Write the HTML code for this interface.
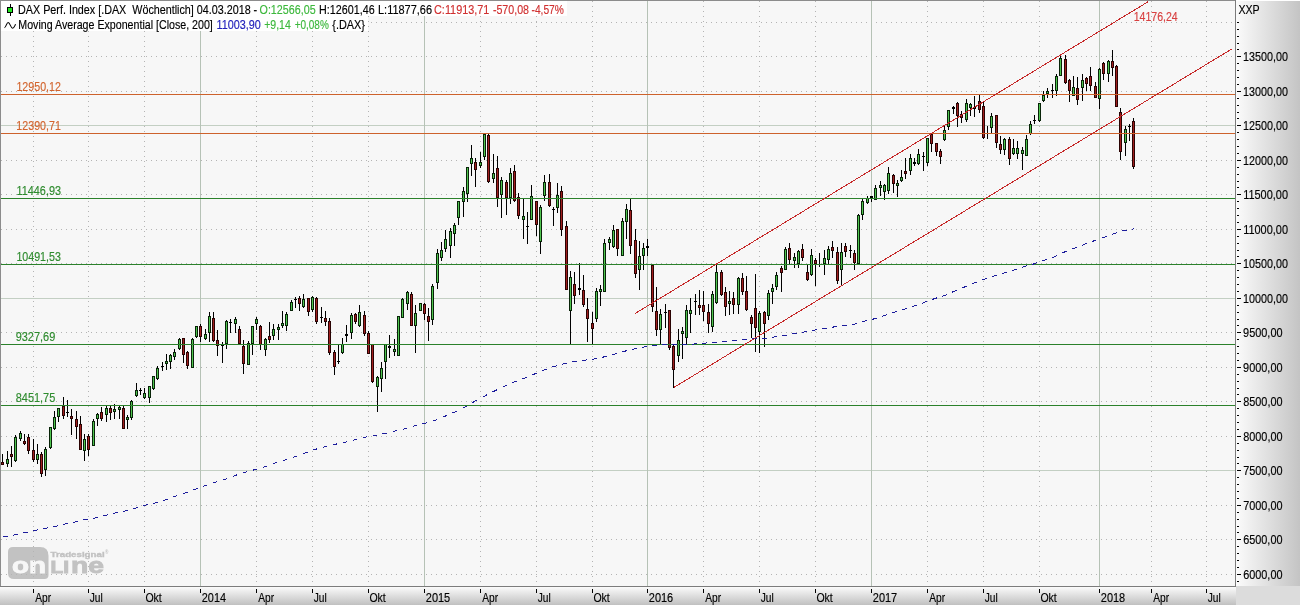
<!DOCTYPE html>
<html lang="de"><head><meta charset="utf-8"><title>DAX Perf. Index Wöchentlich</title>
<style>
html,body{margin:0;padding:0;background:#fff;}
body{width:1300px;height:605px;overflow:hidden;position:relative;}
svg{position:absolute;left:0;top:0;display:block;}
text{font-family:"Liberation Sans",Arial,sans-serif;font-size:12px;}
#texts text{stroke-width:0.15px;}
.cr{shape-rendering:crispEdges;}
</style></head><body>
<svg width="1300" height="605" viewBox="0 0 1300 605">
<defs>
<linearGradient id="gr" x1="0" y1="0" x2="1" y2="0"><stop offset="0" stop-color="#fbfbfb"/><stop offset="1" stop-color="#c4c4c4"/></linearGradient>
<linearGradient id="gb" x1="0" y1="0" x2="0" y2="1"><stop offset="0" stop-color="#fbfbfb"/><stop offset="1" stop-color="#c0c0c0"/></linearGradient>
</defs>
<rect x="0" y="0" width="1300" height="605" fill="#ffffff"/>
<rect x="0" y="0" width="1235" height="586" fill="#f7f7f7"/>
<rect x="1236" y="1" width="64" height="585" fill="url(#gr)"/>
<rect x="0" y="587" width="1236" height="18" fill="url(#gb)"/>
<rect x="1236" y="586" width="64" height="19" fill="#dcdcdc"/>
<g id="logo" style="font-weight:bold" stroke-linejoin="miter">
<path d="M13 547 H40 Q48.5 547 48.5 556 V575 Q48.5 579 44.5 579 H14 Q8 579 8 573 V552 Q8 547 13 547 Z" fill="#c2c2c2"/>
<text x="50.6" y="557.3" style="font-size:8px" fill="#c2c2c2" stroke="#c2c2c2" stroke-width="0.35" textLength="54" lengthAdjust="spacingAndGlyphs">Tradesignal</text>
<text x="105" y="554.2" style="font-size:4.5px" fill="#c2c2c2">®</text>
<text y="573.2" stroke-width="0.9"><tspan x="12" style="font-size:22px" fill="#f7f7f7" stroke="#f7f7f7" textLength="34" lengthAdjust="spacingAndGlyphs">on</tspan><tspan x="50.6" style="font-size:16px" fill="#c2c2c2" stroke="#c2c2c2" textLength="18.5" lengthAdjust="spacingAndGlyphs">LI</tspan><tspan x="71" style="font-size:22px" fill="#c2c2c2" stroke="#c2c2c2" textLength="33" lengthAdjust="spacingAndGlyphs">ne</tspan></text>
</g>
<g class="cr">
<line x1="1" y1="574.5" x2="1235" y2="574.5" stroke="#b4b4b4" stroke-width="1" stroke-dasharray="1 4"/>
<line x1="1" y1="539.5" x2="1235" y2="539.5" stroke="#b4b4b4" stroke-width="1" stroke-dasharray="1 4"/>
<line x1="1" y1="505.5" x2="1235" y2="505.5" stroke="#b4b4b4" stroke-width="1" stroke-dasharray="1 4"/>
<rect x="1" y="470" width="1234" height="1" fill="#c3cfc3"/>
<line x1="1" y1="436.5" x2="1235" y2="436.5" stroke="#b4b4b4" stroke-width="1" stroke-dasharray="1 4"/>
<line x1="1" y1="401.5" x2="1235" y2="401.5" stroke="#b4b4b4" stroke-width="1" stroke-dasharray="1 4"/>
<line x1="1" y1="367.5" x2="1235" y2="367.5" stroke="#b4b4b4" stroke-width="1" stroke-dasharray="1 4"/>
<line x1="1" y1="332.5" x2="1235" y2="332.5" stroke="#b4b4b4" stroke-width="1" stroke-dasharray="1 4"/>
<rect x="1" y="298" width="1234" height="1" fill="#c3cfc3"/>
<line x1="1" y1="263.5" x2="1235" y2="263.5" stroke="#b4b4b4" stroke-width="1" stroke-dasharray="1 4"/>
<line x1="1" y1="229.5" x2="1235" y2="229.5" stroke="#b4b4b4" stroke-width="1" stroke-dasharray="1 4"/>
<line x1="1" y1="194.5" x2="1235" y2="194.5" stroke="#b4b4b4" stroke-width="1" stroke-dasharray="1 4"/>
<line x1="1" y1="160.5" x2="1235" y2="160.5" stroke="#b4b4b4" stroke-width="1" stroke-dasharray="1 4"/>
<rect x="1" y="125" width="1234" height="1" fill="#c3cfc3"/>
<line x1="1" y1="91.5" x2="1235" y2="91.5" stroke="#b4b4b4" stroke-width="1" stroke-dasharray="1 4"/>
<line x1="1" y1="56.5" x2="1235" y2="56.5" stroke="#b4b4b4" stroke-width="1" stroke-dasharray="1 4"/>
<line x1="1" y1="22.5" x2="1235" y2="22.5" stroke="#b4b4b4" stroke-width="1" stroke-dasharray="1 4"/>
<line x1="33.5" y1="1" x2="33.5" y2="586" stroke="#b4b4b4" stroke-width="1" stroke-dasharray="1 4"/>
<line x1="88.5" y1="1" x2="88.5" y2="586" stroke="#b4b4b4" stroke-width="1" stroke-dasharray="1 4"/>
<line x1="144.5" y1="1" x2="144.5" y2="586" stroke="#b4b4b4" stroke-width="1" stroke-dasharray="1 4"/>
<rect x="200" y="1" width="1" height="585" fill="#b6c2b6"/>
<line x1="256.5" y1="1" x2="256.5" y2="586" stroke="#b4b4b4" stroke-width="1" stroke-dasharray="1 4"/>
<line x1="312.5" y1="1" x2="312.5" y2="586" stroke="#b4b4b4" stroke-width="1" stroke-dasharray="1 4"/>
<line x1="368.5" y1="1" x2="368.5" y2="586" stroke="#b4b4b4" stroke-width="1" stroke-dasharray="1 4"/>
<rect x="424" y="1" width="1" height="585" fill="#b6c2b6"/>
<line x1="480.5" y1="1" x2="480.5" y2="586" stroke="#b4b4b4" stroke-width="1" stroke-dasharray="1 4"/>
<line x1="536.5" y1="1" x2="536.5" y2="586" stroke="#b4b4b4" stroke-width="1" stroke-dasharray="1 4"/>
<line x1="592.5" y1="1" x2="592.5" y2="586" stroke="#b4b4b4" stroke-width="1" stroke-dasharray="1 4"/>
<rect x="647" y="1" width="1" height="585" fill="#b6c2b6"/>
<line x1="703.5" y1="1" x2="703.5" y2="586" stroke="#b4b4b4" stroke-width="1" stroke-dasharray="1 4"/>
<line x1="759.5" y1="1" x2="759.5" y2="586" stroke="#b4b4b4" stroke-width="1" stroke-dasharray="1 4"/>
<line x1="815.5" y1="1" x2="815.5" y2="586" stroke="#b4b4b4" stroke-width="1" stroke-dasharray="1 4"/>
<rect x="871" y="1" width="1" height="585" fill="#b6c2b6"/>
<line x1="927.5" y1="1" x2="927.5" y2="586" stroke="#b4b4b4" stroke-width="1" stroke-dasharray="1 4"/>
<line x1="983.5" y1="1" x2="983.5" y2="586" stroke="#b4b4b4" stroke-width="1" stroke-dasharray="1 4"/>
<line x1="1039.5" y1="1" x2="1039.5" y2="586" stroke="#b4b4b4" stroke-width="1" stroke-dasharray="1 4"/>
<rect x="1099" y="1" width="1" height="585" fill="#b6c2b6"/>
<line x1="1151.5" y1="1" x2="1151.5" y2="586" stroke="#b4b4b4" stroke-width="1" stroke-dasharray="1 4"/>
<line x1="1206.5" y1="1" x2="1206.5" y2="586" stroke="#b4b4b4" stroke-width="1" stroke-dasharray="1 4"/>
</g>
<g class="cr" id="candles">
<path fill="#000" d="M2 454h1v11h-1zM7 451h1v16h-1zM11 446h1v21h-1zM15 435h1v27h-1zM20 431h1v10h-1zM24 434h1v11h-1zM28 434h1v20h-1zM33 439h1v23h-1zM37 444h1v20h-1zM41 452h1v25h-1zM45 447h1v29h-1zM50 427h1v22h-1zM54 411h1v19h-1zM58 408h1v14h-1zM63 397h1v22h-1zM67 400h1v17h-1zM71 409h1v26h-1zM76 411h1v28h-1zM80 416h1v34h-1zM84 434h1v27h-1zM88 434h1v22h-1zM93 419h1v27h-1zM97 413h1v13h-1zM101 407h1v14h-1zM106 406h1v16h-1zM110 406h1v14h-1zM114 404h1v15h-1zM119 406h1v13h-1zM123 406h1v23h-1zM127 415h1v14h-1zM131 400h1v20h-1zM136 383h1v14h-1zM140 388h1v7h-1zM144 388h1v11h-1zM149 386h1v17h-1zM153 376h1v14h-1zM157 366h1v14h-1zM162 362h1v9h-1zM166 354h1v16h-1zM170 354h1v15h-1zM174 349h1v11h-1zM179 338h1v12h-1zM183 338h1v25h-1zM187 351h1v18h-1zM192 338h1v30h-1zM196 326h1v12h-1zM200 324h1v18h-1zM205 329h1v11h-1zM209 312h1v30h-1zM213 312h1v30h-1zM217 330h1v26h-1zM222 342h1v21h-1zM226 320h1v29h-1zM230 319h1v14h-1zM235 317h1v16h-1zM239 326h1v18h-1zM243 340h1v34h-1zM248 341h1v24h-1zM252 326h1v29h-1zM256 317h1v13h-1zM260 325h1v25h-1zM265 338h1v18h-1zM269 322h1v21h-1zM273 324h1v16h-1zM278 324h1v16h-1zM282 311h1v17h-1zM286 312h1v19h-1zM291 300h1v11h-1zM295 297h1v11h-1zM299 296h1v15h-1zM303 294h1v14h-1zM308 298h1v18h-1zM312 296h1v16h-1zM316 297h1v27h-1zM321 307h1v16h-1zM325 311h1v15h-1zM329 318h1v37h-1zM334 350h1v25h-1zM338 344h1v20h-1zM342 338h1v16h-1zM346 325h1v17h-1zM351 313h1v26h-1zM355 313h1v11h-1zM359 305h1v22h-1zM364 311h1v25h-1zM368 331h1v23h-1zM372 344h1v39h-1zM377 376h1v36h-1zM381 362h1v30h-1zM385 344h1v35h-1zM389 335h1v23h-1zM394 339h1v17h-1zM398 316h1v40h-1zM402 298h1v20h-1zM407 291h1v19h-1zM411 292h1v34h-1zM415 305h1v48h-1zM420 303h1v8h-1zM424 303h1v17h-1zM428 308h1v33h-1zM432 284h1v41h-1zM437 249h1v40h-1zM441 242h1v19h-1zM445 230h1v22h-1zM450 228h1v30h-1zM454 223h1v23h-1zM458 201h1v24h-1zM463 187h1v30h-1zM467 167h1v35h-1zM471 145h1v31h-1zM475 158h1v29h-1zM480 152h1v16h-1zM484 134h1v26h-1zM488 134h1v49h-1zM493 154h1v29h-1zM497 156h1v51h-1zM501 177h1v41h-1zM506 180h1v35h-1zM510 168h1v36h-1zM514 165h1v37h-1zM518 193h1v26h-1zM523 199h1v40h-1zM527 212h1v32h-1zM531 185h1v35h-1zM536 201h1v35h-1zM540 205h1v49h-1zM544 175h1v26h-1zM549 174h1v33h-1zM553 207h1v19h-1zM557 183h1v30h-1zM561 186h1v50h-1zM566 221h1v69h-1zM570 271h1v73h-1zM574 272h1v32h-1zM579 263h1v32h-1zM583 275h1v32h-1zM587 298h1v44h-1zM592 312h1v32h-1zM596 288h1v34h-1zM600 285h1v21h-1zM604 239h1v53h-1zM609 237h1v13h-1zM613 225h1v23h-1zM617 229h1v27h-1zM622 218h1v38h-1zM626 204h1v35h-1zM630 199h1v55h-1zM635 229h1v49h-1zM639 241h1v49h-1zM643 243h1v27h-1zM647 239h1v17h-1zM652 265h1v47h-1zM656 287h1v49h-1zM660 309h1v36h-1zM665 304h1v24h-1zM669 310h1v40h-1zM673 345h1v43h-1zM678 329h1v33h-1zM682 327h1v32h-1zM686 305h1v39h-1zM690 298h1v35h-1zM695 294h1v21h-1zM699 290h1v25h-1zM703 291h1v30h-1zM708 304h1v29h-1zM712 291h1v41h-1zM716 265h1v39h-1zM721 270h1v26h-1zM725 287h1v29h-1zM729 291h1v24h-1zM733 292h1v22h-1zM738 277h1v37h-1zM742 273h1v22h-1zM746 276h1v35h-1zM751 315h1v23h-1zM755 274h1v78h-1zM759 311h1v42h-1zM764 311h1v36h-1zM768 290h1v30h-1zM772 284h1v20h-1zM776 272h1v18h-1zM781 266h1v26h-1zM785 247h1v23h-1zM789 243h1v21h-1zM794 253h1v15h-1zM798 250h1v18h-1zM802 244h1v17h-1zM807 264h1v17h-1zM811 249h1v27h-1zM815 258h1v28h-1zM819 253h1v14h-1zM824 250h1v25h-1zM828 246h1v18h-1zM832 241h1v17h-1zM837 247h1v37h-1zM841 243h1v43h-1zM845 243h1v14h-1zM850 245h1v13h-1zM854 250h1v20h-1zM858 214h1v50h-1zM862 199h1v21h-1zM867 196h1v8h-1zM871 196h1v6h-1zM875 185h1v15h-1zM880 181h1v15h-1zM884 184h1v16h-1zM888 167h1v27h-1zM893 174h1v19h-1zM897 180h1v17h-1zM901 170h1v12h-1zM905 158h1v21h-1zM910 154h1v21h-1zM914 158h1v8h-1zM918 149h1v16h-1zM923 152h1v19h-1zM927 138h1v28h-1zM931 133h1v19h-1zM936 143h1v13h-1zM940 149h1v15h-1zM944 126h1v15h-1zM948 110h1v20h-1zM953 106h1v8h-1zM957 102h1v25h-1zM961 111h1v12h-1zM966 99h1v23h-1zM970 103h1v13h-1zM974 96h1v21h-1zM979 95h1v18h-1zM983 102h1v37h-1zM987 126h1v13h-1zM991 113h1v20h-1zM996 115h1v33h-1zM1000 136h1v18h-1zM1004 138h1v17h-1zM1009 137h1v28h-1zM1013 139h1v16h-1zM1017 141h1v18h-1zM1022 147h1v23h-1zM1026 135h1v21h-1zM1030 121h1v14h-1zM1034 115h1v9h-1zM1039 103h1v19h-1zM1043 91h1v11h-1zM1047 88h1v10h-1zM1052 84h1v14h-1zM1056 74h1v22h-1zM1060 56h1v20h-1zM1065 55h1v29h-1zM1069 79h1v23h-1zM1073 76h1v20h-1zM1077 77h1v28h-1zM1082 74h1v27h-1zM1086 77h1v14h-1zM1090 67h1v24h-1zM1095 82h1v16h-1zM1099 68h1v41h-1zM1103 62h1v18h-1zM1108 60h1v22h-1zM1112 50h1v26h-1zM1116 65h1v42h-1zM1120 108h1v52h-1zM1125 126h1v30h-1zM1129 124h1v17h-1zM1133 118h1v51h-1z"/>
<path fill="#000" d="M66 412h3v1h-3zM139 390h3v1h-3zM161 366h3v1h-3zM221 345h3v1h-3zM229 322h3v1h-3zM294 299h3v1h-3zM320 317h3v1h-3zM337 361h3v1h-3zM345 334h3v2h-3zM388 346h3v2h-3zM526 226h3v1h-3zM552 209h3v1h-3zM578 288h3v2h-3zM646 246h3v2h-3zM664 312h3v1h-3zM694 301h3v1h-3zM849 250h3v1h-3zM870 196h3v2h-3zM913 162h3v2h-3zM922 156h3v1h-3zM952 107h3v2h-3zM973 107h3v2h-3zM1033 120h3v1h-3zM1051 90h3v1h-3zM1128 126h3v1h-3z"/>
<path fill="#082408" d="M6 459h3v5h-3zM14 437h3v24h-3zM19 433h3v6h-3zM36 454h3v6h-3zM44 449h3v21h-3zM49 427h3v21h-3zM53 417h3v12h-3zM57 408h3v9h-3zM83 439h3v12h-3zM92 421h3v25h-3zM96 414h3v5h-3zM105 408h3v7h-3zM113 409h3v3h-3zM118 407h3v3h-3zM126 417h3v3h-3zM130 401h3v17h-3zM135 390h3v6h-3zM143 393h3v5h-3zM148 386h3v12h-3zM152 376h3v13h-3zM156 368h3v11h-3zM165 361h3v3h-3zM169 355h3v7h-3zM173 352h3v5h-3zM178 339h3v10h-3zM191 339h3v29h-3zM195 326h3v11h-3zM204 334h3v5h-3zM208 316h3v17h-3zM225 321h3v23h-3zM234 319h3v5h-3zM247 343h3v22h-3zM251 326h3v18h-3zM255 319h3v5h-3zM264 339h3v11h-3zM272 329h3v7h-3zM277 327h3v3h-3zM281 323h3v3h-3zM285 314h3v12h-3zM290 302h3v9h-3zM302 299h3v8h-3zM311 297h3v13h-3zM341 344h3v9h-3zM350 315h3v18h-3zM358 312h3v14h-3zM376 377h3v10h-3zM380 368h3v11h-3zM384 344h3v18h-3zM393 349h3v3h-3zM397 316h3v40h-3zM401 299h3v19h-3zM406 292h3v12h-3zM414 313h3v13h-3zM419 303h3v8h-3zM431 286h3v34h-3zM436 253h3v30h-3zM440 250h3v8h-3zM444 239h3v10h-3zM449 231h3v15h-3zM453 225h3v9h-3zM457 201h3v17h-3zM462 191h3v11h-3zM466 167h3v27h-3zM470 158h3v6h-3zM479 162h3v4h-3zM483 134h3v23h-3zM492 173h3v6h-3zM500 180h3v15h-3zM509 173h3v25h-3zM522 216h3v4h-3zM530 196h3v24h-3zM539 207h3v35h-3zM543 182h3v14h-3zM556 195h3v13h-3zM569 277h3v34h-3zM595 291h3v28h-3zM599 289h3v3h-3zM603 243h3v49h-3zM608 239h3v4h-3zM612 230h3v17h-3zM621 221h3v35h-3zM625 209h3v13h-3zM638 256h3v14h-3zM642 248h3v8h-3zM659 314h3v16h-3zM677 340h3v16h-3zM681 331h3v3h-3zM685 310h3v28h-3zM689 310h3v4h-3zM711 294h3v33h-3zM715 272h3v31h-3zM728 301h3v3h-3zM737 278h3v27h-3zM758 313h3v19h-3zM767 293h3v23h-3zM771 288h3v4h-3zM775 275h3v12h-3zM784 249h3v21h-3zM793 257h3v4h-3zM797 251h3v13h-3zM810 255h3v20h-3zM823 258h3v6h-3zM827 249h3v11h-3zM840 252h3v18h-3zM857 215h3v49h-3zM861 201h3v14h-3zM866 198h3v5h-3zM874 188h3v12h-3zM879 185h3v3h-3zM883 185h3v7h-3zM887 173h3v18h-3zM896 183h3v3h-3zM900 177h3v4h-3zM909 158h3v13h-3zM917 154h3v10h-3zM926 138h3v25h-3zM943 130h3v10h-3zM947 110h3v17h-3zM965 103h3v17h-3zM969 104h3v4h-3zM990 116h3v12h-3zM1003 139h3v11h-3zM1012 148h3v6h-3zM1016 148h3v6h-3zM1021 150h3v4h-3zM1025 139h3v17h-3zM1029 124h3v10h-3zM1038 103h3v18h-3zM1042 95h3v6h-3zM1046 91h3v3h-3zM1055 76h3v15h-3zM1059 58h3v18h-3zM1072 87h3v9h-3zM1081 80h3v8h-3zM1098 69h3v30h-3zM1107 61h3v13h-3zM1124 129h3v14h-3z"/>
<path fill="#2a0303" d="M1 462h3v3h-3zM10 454h3v3h-3zM23 441h3v3h-3zM27 437h3v14h-3zM32 450h3v10h-3zM40 454h3v20h-3zM62 406h3v10h-3zM70 416h3v3h-3zM75 419h3v8h-3zM79 424h3v26h-3zM87 436h3v14h-3zM100 412h3v7h-3zM109 408h3v5h-3zM122 408h3v21h-3zM182 338h3v17h-3zM186 352h3v14h-3zM199 326h3v11h-3zM212 318h3v23h-3zM216 340h3v6h-3zM238 329h3v15h-3zM242 346h3v18h-3zM259 326h3v19h-3zM268 336h3v4h-3zM298 298h3v6h-3zM307 298h3v14h-3zM315 298h3v24h-3zM324 318h3v4h-3zM328 321h3v32h-3zM333 352h3v15h-3zM354 314h3v8h-3zM363 315h3v19h-3zM367 333h3v21h-3zM371 344h3v38h-3zM410 294h3v32h-3zM423 304h3v10h-3zM427 316h3v6h-3zM474 162h3v8h-3zM487 135h3v47h-3zM496 168h3v30h-3zM505 182h3v16h-3zM513 171h3v30h-3zM517 197h3v19h-3zM535 201h3v24h-3zM548 182h3v24h-3zM560 191h3v39h-3zM565 226h3v64h-3zM573 284h3v12h-3zM582 290h3v15h-3zM586 309h3v10h-3zM591 323h3v6h-3zM616 229h3v20h-3zM629 210h3v36h-3zM634 240h3v34h-3zM651 265h3v42h-3zM655 311h3v19h-3zM668 310h3v38h-3zM672 346h3v24h-3zM698 305h3v3h-3zM702 305h3v7h-3zM707 312h3v12h-3zM720 272h3v23h-3zM724 292h3v15h-3zM732 298h3v7h-3zM741 278h3v14h-3zM745 291h3v19h-3zM750 317h3v7h-3zM754 308h3v20h-3zM763 312h3v12h-3zM780 268h3v5h-3zM788 248h3v12h-3zM801 249h3v9h-3zM806 272h3v8h-3zM814 260h3v4h-3zM831 247h3v4h-3zM836 252h3v29h-3zM844 246h3v6h-3zM853 253h3v10h-3zM892 175h3v9h-3zM904 171h3v3h-3zM930 134h3v10h-3zM935 143h3v9h-3zM939 151h3v6h-3zM956 103h3v13h-3zM960 114h3v4h-3zM978 101h3v9h-3zM982 106h3v32h-3zM995 115h3v28h-3zM999 144h3v6h-3zM1008 139h3v20h-3zM1064 59h3v24h-3zM1068 80h3v11h-3zM1076 88h3v12h-3zM1085 78h3v6h-3zM1089 76h3v10h-3zM1094 86h3v12h-3zM1102 63h3v11h-3zM1111 61h3v7h-3zM1115 66h3v41h-3zM1119 112h3v40h-3zM1132 121h3v46h-3z"/>
<path fill="#4fc54f" d="M7 460h1v3h-1zM15 438h1v22h-1zM20 434h1v4h-1zM37 455h1v4h-1zM45 450h1v19h-1zM50 428h1v19h-1zM54 418h1v10h-1zM58 409h1v7h-1zM84 440h1v10h-1zM93 422h1v23h-1zM97 415h1v3h-1zM106 409h1v5h-1zM114 410h1v1h-1zM119 408h1v1h-1zM127 418h1v1h-1zM131 402h1v15h-1zM136 391h1v4h-1zM144 394h1v3h-1zM149 387h1v10h-1zM153 377h1v11h-1zM157 369h1v9h-1zM166 362h1v1h-1zM170 356h1v5h-1zM174 353h1v3h-1zM179 340h1v8h-1zM192 340h1v27h-1zM196 327h1v9h-1zM205 335h1v3h-1zM209 317h1v15h-1zM226 322h1v21h-1zM235 320h1v3h-1zM248 344h1v20h-1zM252 327h1v16h-1zM256 320h1v3h-1zM265 340h1v9h-1zM273 330h1v5h-1zM278 328h1v1h-1zM282 324h1v1h-1zM286 315h1v10h-1zM291 303h1v7h-1zM303 300h1v6h-1zM312 298h1v11h-1zM342 345h1v7h-1zM351 316h1v16h-1zM359 313h1v12h-1zM377 378h1v8h-1zM381 369h1v9h-1zM385 345h1v16h-1zM394 350h1v1h-1zM398 317h1v38h-1zM402 300h1v17h-1zM407 293h1v10h-1zM415 314h1v11h-1zM420 304h1v6h-1zM432 287h1v32h-1zM437 254h1v28h-1zM441 251h1v6h-1zM445 240h1v8h-1zM450 232h1v13h-1zM454 226h1v7h-1zM458 202h1v15h-1zM463 192h1v9h-1zM467 168h1v25h-1zM471 159h1v4h-1zM480 163h1v2h-1zM484 135h1v21h-1zM493 174h1v4h-1zM501 181h1v13h-1zM510 174h1v23h-1zM523 217h1v2h-1zM531 197h1v22h-1zM540 208h1v33h-1zM544 183h1v12h-1zM557 196h1v11h-1zM570 278h1v32h-1zM596 292h1v26h-1zM600 290h1v1h-1zM604 244h1v47h-1zM609 240h1v2h-1zM613 231h1v15h-1zM622 222h1v33h-1zM626 210h1v11h-1zM639 257h1v12h-1zM643 249h1v6h-1zM660 315h1v14h-1zM678 341h1v14h-1zM682 332h1v1h-1zM686 311h1v26h-1zM690 311h1v2h-1zM712 295h1v31h-1zM716 273h1v29h-1zM729 302h1v1h-1zM738 279h1v25h-1zM759 314h1v17h-1zM768 294h1v21h-1zM772 289h1v2h-1zM776 276h1v10h-1zM785 250h1v19h-1zM794 258h1v2h-1zM798 252h1v11h-1zM811 256h1v18h-1zM824 259h1v4h-1zM828 250h1v9h-1zM841 253h1v16h-1zM858 216h1v47h-1zM862 202h1v12h-1zM867 199h1v3h-1zM875 189h1v10h-1zM880 186h1v1h-1zM884 186h1v5h-1zM888 174h1v16h-1zM897 184h1v1h-1zM901 178h1v2h-1zM910 159h1v11h-1zM918 155h1v8h-1zM927 139h1v23h-1zM944 131h1v8h-1zM948 111h1v15h-1zM966 104h1v15h-1zM970 105h1v2h-1zM991 117h1v10h-1zM1004 140h1v9h-1zM1013 149h1v4h-1zM1017 149h1v4h-1zM1022 151h1v2h-1zM1026 140h1v15h-1zM1030 125h1v8h-1zM1039 104h1v16h-1zM1043 96h1v4h-1zM1047 92h1v1h-1zM1056 77h1v13h-1zM1060 59h1v16h-1zM1073 88h1v7h-1zM1082 81h1v6h-1zM1099 70h1v28h-1zM1108 62h1v11h-1zM1125 130h1v12h-1z"/>
<path fill="#a01e1e" d="M2 463h1v1h-1zM11 455h1v1h-1zM24 442h1v1h-1zM28 438h1v12h-1zM33 451h1v8h-1zM41 455h1v18h-1zM63 407h1v8h-1zM71 417h1v1h-1zM76 420h1v6h-1zM80 425h1v24h-1zM88 437h1v12h-1zM101 413h1v5h-1zM110 409h1v3h-1zM123 409h1v19h-1zM183 339h1v15h-1zM187 353h1v12h-1zM200 327h1v9h-1zM213 319h1v21h-1zM217 341h1v4h-1zM239 330h1v13h-1zM243 347h1v16h-1zM260 327h1v17h-1zM269 337h1v2h-1zM299 299h1v4h-1zM308 299h1v12h-1zM316 299h1v22h-1zM325 319h1v2h-1zM329 322h1v30h-1zM334 353h1v13h-1zM355 315h1v6h-1zM364 316h1v17h-1zM368 334h1v19h-1zM372 345h1v36h-1zM411 295h1v30h-1zM424 305h1v8h-1zM428 317h1v4h-1zM475 163h1v6h-1zM488 136h1v45h-1zM497 169h1v28h-1zM506 183h1v14h-1zM514 172h1v28h-1zM518 198h1v17h-1zM536 202h1v22h-1zM549 183h1v22h-1zM561 192h1v37h-1zM566 227h1v62h-1zM574 285h1v10h-1zM583 291h1v13h-1zM587 310h1v8h-1zM592 324h1v4h-1zM617 230h1v18h-1zM630 211h1v34h-1zM635 241h1v32h-1zM652 266h1v40h-1zM656 312h1v17h-1zM669 311h1v36h-1zM673 347h1v22h-1zM699 306h1v1h-1zM703 306h1v5h-1zM708 313h1v10h-1zM721 273h1v21h-1zM725 293h1v13h-1zM733 299h1v5h-1zM742 279h1v12h-1zM746 292h1v17h-1zM751 318h1v5h-1zM755 309h1v18h-1zM764 313h1v10h-1zM781 269h1v3h-1zM789 249h1v10h-1zM802 250h1v7h-1zM807 273h1v6h-1zM815 261h1v2h-1zM832 248h1v2h-1zM837 253h1v27h-1zM845 247h1v4h-1zM854 254h1v8h-1zM893 176h1v7h-1zM905 172h1v1h-1zM931 135h1v8h-1zM936 144h1v7h-1zM940 152h1v4h-1zM957 104h1v11h-1zM961 115h1v2h-1zM979 102h1v7h-1zM983 107h1v30h-1zM996 116h1v26h-1zM1000 145h1v4h-1zM1009 140h1v18h-1zM1065 60h1v22h-1zM1069 81h1v9h-1zM1077 89h1v10h-1zM1086 79h1v4h-1zM1090 77h1v8h-1zM1095 87h1v10h-1zM1103 64h1v9h-1zM1112 62h1v5h-1zM1116 67h1v39h-1zM1120 113h1v38h-1zM1133 122h1v44h-1z"/>
</g>
<rect class="cr" x="1" y="94" width="1234" height="1" fill="#cd622c"/>
<rect class="cr" x="1" y="133" width="1234" height="1" fill="#cd622c"/>
<rect class="cr" x="1" y="198" width="1234" height="1" fill="#2b812b"/>
<rect class="cr" x="1" y="264" width="1234" height="1" fill="#2b812b"/>
<rect class="cr" x="1" y="344" width="1234" height="1" fill="#2b812b"/>
<rect class="cr" x="1" y="405" width="1234" height="1" fill="#2b812b"/>
<path d="M3.0 536.8L7.7 536.1M13.0 535.2L17.7 534.1M23.0 533.0L27.7 532.0M33.0 530.8L37.7 529.9M43.0 528.8L47.7 527.9M53.0 527.0L57.7 525.9M62.9 524.6L67.6 523.5M72.9 522.4L77.6 521.3M82.9 519.9L87.6 519.2M92.9 518.6L97.6 517.5M102.9 516.1L107.6 514.8M112.9 513.4L117.6 512.4M122.9 511.5L127.6 510.4M132.9 509.0L137.6 507.6M142.9 505.9L147.6 504.7M152.8 503.6L157.5 502.3M162.8 500.7L167.5 499.1M172.8 497.2L177.5 495.6M182.8 493.8L187.5 492.1M192.8 490.2L197.5 488.4M202.8 486.4L207.5 484.7M212.8 482.9L217.5 481.5M222.8 480.2L227.5 478.5M232.8 476.4L237.5 474.6M242.8 472.9L247.5 471.6M252.8 470.2L257.4 468.9M262.7 467.4L267.4 465.8M272.7 463.9L277.4 462.3M282.7 460.7L287.4 459.2M292.7 457.5L297.4 455.8M302.7 453.9L307.4 452.2M312.7 450.2L317.4 448.7M322.7 447.3L327.4 446.1M332.7 444.9L337.4 443.8M342.7 442.8L347.4 441.7M352.7 440.4L357.4 439.2M362.6 437.9L367.3 436.8M372.6 435.8L377.3 434.9M382.6 434.0L387.3 433.0M392.6 431.6L397.3 430.6M402.6 429.5L407.3 428.2M412.6 426.5L417.3 425.2M422.6 424.0L427.3 422.7M432.6 421.1L437.3 419.4M442.6 417.2L447.3 415.2M452.6 413.0L457.2 410.9M462.5 408.4L467.2 405.8M472.5 402.5L477.2 399.9M482.5 397.1L487.2 394.7M492.5 392.0L497.2 389.7M502.5 387.1L507.2 385.0M512.5 382.7L517.2 380.9M522.5 379.0L527.2 377.1M532.5 374.9L537.2 372.9M542.5 370.7L547.2 368.9M552.5 367.0L557.2 365.5M562.4 364.1L567.1 363.1M572.4 362.0L577.1 361.2M582.4 360.5L587.1 359.9M592.4 359.3L597.1 358.5M602.4 357.3L607.1 356.1M612.4 354.7L617.1 353.4M622.4 351.8L627.1 350.6M632.4 349.4L637.1 348.4M642.4 347.3L647.1 346.4M652.4 345.5L657.1 345.0M662.3 344.9L667.0 344.8M672.3 344.8L677.0 344.7M682.3 344.6L687.0 344.4M692.3 344.1L697.0 343.8M702.3 343.3L707.0 342.9M712.3 342.5L717.0 342.1M722.3 341.7L727.0 341.2M732.3 340.6L737.0 340.1M742.3 339.5L747.0 339.1M752.2 338.8L757.0 338.5M762.2 338.4L766.9 338.0M772.2 337.3L776.9 336.7M782.2 335.9L786.9 335.1M792.2 334.0L796.9 333.1M802.2 332.3L806.9 331.5M812.2 330.6L816.9 329.7M822.2 328.8L826.9 328.0M832.2 327.2L836.9 326.5M842.2 325.8L846.9 325.3M852.1 324.7L856.9 323.6M862.1 321.8L866.8 320.5M872.1 319.4L876.8 318.1M882.1 316.4L886.8 314.8M892.1 313.0L896.8 311.5M902.1 310.0L906.8 308.5M912.1 306.8L916.8 305.1M922.1 303.2L926.8 301.5M932.1 299.5L936.8 297.9M942.1 296.4L946.8 294.6M952.1 292.2L956.8 290.2M962.0 288.0L966.7 286.1M972.0 283.8L976.7 282.0M982.0 279.9L986.7 278.3M992.0 276.5L996.7 275.1M1002.0 273.6L1006.7 272.2M1012.0 270.6L1016.7 269.1M1022.0 267.4L1026.7 265.9M1032.0 264.5L1036.7 262.9M1042.0 261.0L1046.7 259.4M1052.0 257.7L1056.7 255.8M1061.9 253.2L1066.6 251.1M1071.9 249.1L1076.6 247.3M1081.9 245.3L1086.6 243.5M1091.9 241.6L1096.6 239.9M1101.9 238.0L1106.6 236.3M1111.9 234.3L1116.6 232.7M1121.9 231.1L1126.6 230.0M1131.9 229.2L1133.6 228.9" fill="none" stroke="#1c1c9c" stroke-width="1" shape-rendering="crispEdges"/>
<line x1="634.7" y1="313.7" x2="1147.8" y2="1.9" stroke="#c62828" stroke-width="1" shape-rendering="crispEdges"/>
<line x1="673.6" y1="387.6" x2="1231.9" y2="48.9" stroke="#c62828" stroke-width="1" shape-rendering="crispEdges"/>
<g class="cr">
<rect x="0" y="0" width="1236" height="1" fill="#8c8c8c"/>
<rect x="0" y="0" width="1" height="586" fill="#8c8c8c"/>
<rect x="0" y="586" width="1236" height="1" fill="#7c7c7c"/>
<rect x="1235" y="0" width="1" height="587" fill="#7c7c7c"/>
<rect x="1237" y="581" width="2" height="1" fill="#000"/>
<rect x="1237" y="574" width="4" height="1" fill="#000"/>
<rect x="1237" y="567" width="2" height="1" fill="#000"/>
<rect x="1237" y="560" width="2" height="1" fill="#000"/>
<rect x="1237" y="553" width="2" height="1" fill="#000"/>
<rect x="1237" y="546" width="2" height="1" fill="#000"/>
<rect x="1237" y="539" width="4" height="1" fill="#000"/>
<rect x="1237" y="532" width="2" height="1" fill="#000"/>
<rect x="1237" y="526" width="2" height="1" fill="#000"/>
<rect x="1237" y="519" width="2" height="1" fill="#000"/>
<rect x="1237" y="512" width="2" height="1" fill="#000"/>
<rect x="1237" y="505" width="4" height="1" fill="#000"/>
<rect x="1237" y="498" width="2" height="1" fill="#000"/>
<rect x="1237" y="491" width="2" height="1" fill="#000"/>
<rect x="1237" y="484" width="2" height="1" fill="#000"/>
<rect x="1237" y="477" width="2" height="1" fill="#000"/>
<rect x="1237" y="470" width="4" height="1" fill="#000"/>
<rect x="1237" y="463" width="2" height="1" fill="#000"/>
<rect x="1237" y="457" width="2" height="1" fill="#000"/>
<rect x="1237" y="450" width="2" height="1" fill="#000"/>
<rect x="1237" y="443" width="2" height="1" fill="#000"/>
<rect x="1237" y="436" width="4" height="1" fill="#000"/>
<rect x="1237" y="429" width="2" height="1" fill="#000"/>
<rect x="1237" y="422" width="2" height="1" fill="#000"/>
<rect x="1237" y="415" width="2" height="1" fill="#000"/>
<rect x="1237" y="408" width="2" height="1" fill="#000"/>
<rect x="1237" y="401" width="4" height="1" fill="#000"/>
<rect x="1237" y="394" width="2" height="1" fill="#000"/>
<rect x="1237" y="388" width="2" height="1" fill="#000"/>
<rect x="1237" y="381" width="2" height="1" fill="#000"/>
<rect x="1237" y="374" width="2" height="1" fill="#000"/>
<rect x="1237" y="367" width="4" height="1" fill="#000"/>
<rect x="1237" y="360" width="2" height="1" fill="#000"/>
<rect x="1237" y="353" width="2" height="1" fill="#000"/>
<rect x="1237" y="346" width="2" height="1" fill="#000"/>
<rect x="1237" y="339" width="2" height="1" fill="#000"/>
<rect x="1237" y="332" width="4" height="1" fill="#000"/>
<rect x="1237" y="325" width="2" height="1" fill="#000"/>
<rect x="1237" y="319" width="2" height="1" fill="#000"/>
<rect x="1237" y="312" width="2" height="1" fill="#000"/>
<rect x="1237" y="305" width="2" height="1" fill="#000"/>
<rect x="1237" y="298" width="4" height="1" fill="#000"/>
<rect x="1237" y="291" width="2" height="1" fill="#000"/>
<rect x="1237" y="284" width="2" height="1" fill="#000"/>
<rect x="1237" y="277" width="2" height="1" fill="#000"/>
<rect x="1237" y="270" width="2" height="1" fill="#000"/>
<rect x="1237" y="263" width="4" height="1" fill="#000"/>
<rect x="1237" y="256" width="2" height="1" fill="#000"/>
<rect x="1237" y="250" width="2" height="1" fill="#000"/>
<rect x="1237" y="243" width="2" height="1" fill="#000"/>
<rect x="1237" y="236" width="2" height="1" fill="#000"/>
<rect x="1237" y="229" width="4" height="1" fill="#000"/>
<rect x="1237" y="222" width="2" height="1" fill="#000"/>
<rect x="1237" y="215" width="2" height="1" fill="#000"/>
<rect x="1237" y="208" width="2" height="1" fill="#000"/>
<rect x="1237" y="201" width="2" height="1" fill="#000"/>
<rect x="1237" y="194" width="4" height="1" fill="#000"/>
<rect x="1237" y="187" width="2" height="1" fill="#000"/>
<rect x="1237" y="181" width="2" height="1" fill="#000"/>
<rect x="1237" y="174" width="2" height="1" fill="#000"/>
<rect x="1237" y="167" width="2" height="1" fill="#000"/>
<rect x="1237" y="160" width="4" height="1" fill="#000"/>
<rect x="1237" y="153" width="2" height="1" fill="#000"/>
<rect x="1237" y="146" width="2" height="1" fill="#000"/>
<rect x="1237" y="139" width="2" height="1" fill="#000"/>
<rect x="1237" y="132" width="2" height="1" fill="#000"/>
<rect x="1237" y="125" width="4" height="1" fill="#000"/>
<rect x="1237" y="118" width="2" height="1" fill="#000"/>
<rect x="1237" y="112" width="2" height="1" fill="#000"/>
<rect x="1237" y="105" width="2" height="1" fill="#000"/>
<rect x="1237" y="98" width="2" height="1" fill="#000"/>
<rect x="1237" y="91" width="4" height="1" fill="#000"/>
<rect x="1237" y="84" width="2" height="1" fill="#000"/>
<rect x="1237" y="77" width="2" height="1" fill="#000"/>
<rect x="1237" y="70" width="2" height="1" fill="#000"/>
<rect x="1237" y="63" width="2" height="1" fill="#000"/>
<rect x="1237" y="56" width="4" height="1" fill="#000"/>
<rect x="1237" y="49" width="2" height="1" fill="#000"/>
<rect x="1237" y="43" width="2" height="1" fill="#000"/>
<rect x="1237" y="36" width="2" height="1" fill="#000"/>
<rect x="1237" y="29" width="2" height="1" fill="#000"/>
<rect x="1237" y="22" width="2" height="1" fill="#000"/>
<rect x="33" y="589" width="1" height="4" fill="#000"/>
<rect x="88" y="589" width="1" height="4" fill="#000"/>
<rect x="144" y="589" width="1" height="4" fill="#000"/>
<rect x="200" y="589" width="1" height="4" fill="#000"/>
<rect x="256" y="589" width="1" height="4" fill="#000"/>
<rect x="312" y="589" width="1" height="4" fill="#000"/>
<rect x="368" y="589" width="1" height="4" fill="#000"/>
<rect x="424" y="589" width="1" height="4" fill="#000"/>
<rect x="480" y="589" width="1" height="4" fill="#000"/>
<rect x="536" y="589" width="1" height="4" fill="#000"/>
<rect x="592" y="589" width="1" height="4" fill="#000"/>
<rect x="647" y="589" width="1" height="4" fill="#000"/>
<rect x="703" y="589" width="1" height="4" fill="#000"/>
<rect x="759" y="589" width="1" height="4" fill="#000"/>
<rect x="815" y="589" width="1" height="4" fill="#000"/>
<rect x="871" y="589" width="1" height="4" fill="#000"/>
<rect x="927" y="589" width="1" height="4" fill="#000"/>
<rect x="983" y="589" width="1" height="4" fill="#000"/>
<rect x="1039" y="589" width="1" height="4" fill="#000"/>
<rect x="1099" y="589" width="1" height="4" fill="#000"/>
<rect x="1151" y="589" width="1" height="4" fill="#000"/>
<rect x="1206" y="589" width="1" height="4" fill="#000"/>
</g>
<rect x="1" y="1" width="566" height="15" fill="#fff"/>
<rect x="1" y="16" width="367" height="15" fill="#fff"/>
<g class="cr"><rect x="10" y="4" width="1" height="12" fill="#000"/><rect x="7" y="7" width="6" height="6" fill="#000"/><rect x="8" y="8" width="4" height="4" fill="#1fe81f"/></g>
<path d="M4.4 27.7 C6 27.7 6.5 22.5 8.2 22.5 C10 22.5 10.8 28.3 12.6 28.3 C14 28.3 14.6 26 15.6 24.2" fill="none" stroke="#000" stroke-width="1.1"/>
<g id="texts">
<text x="18.1" y="13.6" fill="#000" stroke="#000" textLength="239.12" lengthAdjust="spacingAndGlyphs" style="white-space:pre">DAX Perf. Index [.DAX  Wöchentlich] 04.03.2018 -</text>
<text x="259.54" y="13.6" fill="#3cb83c" stroke="#3cb83c" textLength="56.06" lengthAdjust="spacingAndGlyphs" style="white-space:pre">O:12566,05</text>
<text x="319.11" y="13.6" fill="#000" stroke="#000" textLength="55.54" lengthAdjust="spacingAndGlyphs" style="white-space:pre">H:12601,46</text>
<text x="378.01" y="13.6" fill="#000" stroke="#000" textLength="54.0" lengthAdjust="spacingAndGlyphs" style="white-space:pre">L:11877,66</text>
<text x="434.04" y="13.6" fill="#d03030" stroke="#d03030" textLength="55.3" lengthAdjust="spacingAndGlyphs" style="white-space:pre">C:11913,71</text>
<text x="492.88" y="13.6" fill="#d03030" stroke="#d03030" textLength="36.17" lengthAdjust="spacingAndGlyphs" style="white-space:pre">-570,08</text>
<text x="531.5" y="13.6" fill="#d03030" stroke="#d03030" textLength="32.35" lengthAdjust="spacingAndGlyphs" style="white-space:pre">-4,57%</text>
<text x="18.32" y="28.5" fill="#000" stroke="#000" textLength="194.52" lengthAdjust="spacingAndGlyphs" style="white-space:pre">Moving Average Exponential [Close, 200]</text>
<text x="216.45" y="28.5" fill="#2222bb" stroke="#2222bb" textLength="44.32" lengthAdjust="spacingAndGlyphs" style="white-space:pre">11003,90</text>
<text x="264.18" y="28.5" fill="#3cb83c" stroke="#3cb83c" textLength="26.6" lengthAdjust="spacingAndGlyphs" style="white-space:pre">+9,14</text>
<text x="294.63" y="28.5" fill="#3cb83c" stroke="#3cb83c" textLength="34.18" lengthAdjust="spacingAndGlyphs" style="white-space:pre">+0,08%</text>
<text x="332.36" y="28.5" fill="#000" stroke="#000" textLength="32.65" lengthAdjust="spacingAndGlyphs" style="white-space:pre">{.DAX}</text>
<text x="1238.39" y="13.9" fill="#000" stroke="#000" textLength="21.28" lengthAdjust="spacingAndGlyphs" style="white-space:pre">XXP</text>
<text x="1243.16" y="578.6" fill="#000" stroke="#000" textLength="39.33" lengthAdjust="spacingAndGlyphs" style="white-space:pre">6000,00</text>
<text x="1243.16" y="543.6" fill="#000" stroke="#000" textLength="39.33" lengthAdjust="spacingAndGlyphs" style="white-space:pre">6500,00</text>
<text x="1243.18" y="509.6" fill="#000" stroke="#000" textLength="39.36" lengthAdjust="spacingAndGlyphs" style="white-space:pre">7000,00</text>
<text x="1243.18" y="474.6" fill="#000" stroke="#000" textLength="39.36" lengthAdjust="spacingAndGlyphs" style="white-space:pre">7500,00</text>
<text x="1243.17" y="440.6" fill="#000" stroke="#000" textLength="39.37" lengthAdjust="spacingAndGlyphs" style="white-space:pre">8000,00</text>
<text x="1243.17" y="405.6" fill="#000" stroke="#000" textLength="39.37" lengthAdjust="spacingAndGlyphs" style="white-space:pre">8500,00</text>
<text x="1243.12" y="371.6" fill="#000" stroke="#000" textLength="39.43" lengthAdjust="spacingAndGlyphs" style="white-space:pre">9000,00</text>
<text x="1243.12" y="336.6" fill="#000" stroke="#000" textLength="39.43" lengthAdjust="spacingAndGlyphs" style="white-space:pre">9500,00</text>
<text x="1243.09" y="302.6" fill="#000" stroke="#000" textLength="44.81" lengthAdjust="spacingAndGlyphs" style="white-space:pre">10000,00</text>
<text x="1243.09" y="267.6" fill="#000" stroke="#000" textLength="44.81" lengthAdjust="spacingAndGlyphs" style="white-space:pre">10500,00</text>
<text x="1243.17" y="233.6" fill="#000" stroke="#000" textLength="44.82" lengthAdjust="spacingAndGlyphs" style="white-space:pre">11000,00</text>
<text x="1243.17" y="198.6" fill="#000" stroke="#000" textLength="44.82" lengthAdjust="spacingAndGlyphs" style="white-space:pre">11500,00</text>
<text x="1243.09" y="164.6" fill="#000" stroke="#000" textLength="44.81" lengthAdjust="spacingAndGlyphs" style="white-space:pre">12000,00</text>
<text x="1243.09" y="129.6" fill="#000" stroke="#000" textLength="44.81" lengthAdjust="spacingAndGlyphs" style="white-space:pre">12500,00</text>
<text x="1243.09" y="95.6" fill="#000" stroke="#000" textLength="44.81" lengthAdjust="spacingAndGlyphs" style="white-space:pre">13000,00</text>
<text x="1243.09" y="60.6" fill="#000" stroke="#000" textLength="44.81" lengthAdjust="spacingAndGlyphs" style="white-space:pre">13500,00</text>
<text x="35.18" y="601.8" fill="#000" stroke="#000" textLength="15.88" lengthAdjust="spacingAndGlyphs" style="white-space:pre">Apr</text>
<text x="89.73" y="601.8" fill="#000" stroke="#000" textLength="12.97" lengthAdjust="spacingAndGlyphs" style="white-space:pre">Jul</text>
<text x="145.39" y="601.8" fill="#000" stroke="#000" textLength="16.38" lengthAdjust="spacingAndGlyphs" style="white-space:pre">Okt</text>
<text x="201.82" y="601.8" fill="#000" stroke="#000" textLength="24.18" lengthAdjust="spacingAndGlyphs" style="white-space:pre">2014</text>
<text x="258.18" y="601.8" fill="#000" stroke="#000" textLength="15.88" lengthAdjust="spacingAndGlyphs" style="white-space:pre">Apr</text>
<text x="313.73" y="601.8" fill="#000" stroke="#000" textLength="12.97" lengthAdjust="spacingAndGlyphs" style="white-space:pre">Jul</text>
<text x="369.39" y="601.8" fill="#000" stroke="#000" textLength="16.38" lengthAdjust="spacingAndGlyphs" style="white-space:pre">Okt</text>
<text x="425.79" y="601.8" fill="#000" stroke="#000" textLength="24.44" lengthAdjust="spacingAndGlyphs" style="white-space:pre">2015</text>
<text x="482.18" y="601.8" fill="#000" stroke="#000" textLength="15.88" lengthAdjust="spacingAndGlyphs" style="white-space:pre">Apr</text>
<text x="537.73" y="601.8" fill="#000" stroke="#000" textLength="12.97" lengthAdjust="spacingAndGlyphs" style="white-space:pre">Jul</text>
<text x="593.39" y="601.8" fill="#000" stroke="#000" textLength="16.38" lengthAdjust="spacingAndGlyphs" style="white-space:pre">Okt</text>
<text x="648.82" y="601.8" fill="#000" stroke="#000" textLength="24.37" lengthAdjust="spacingAndGlyphs" style="white-space:pre">2016</text>
<text x="705.18" y="601.8" fill="#000" stroke="#000" textLength="15.88" lengthAdjust="spacingAndGlyphs" style="white-space:pre">Apr</text>
<text x="760.73" y="601.8" fill="#000" stroke="#000" textLength="12.97" lengthAdjust="spacingAndGlyphs" style="white-space:pre">Jul</text>
<text x="816.39" y="601.8" fill="#000" stroke="#000" textLength="16.38" lengthAdjust="spacingAndGlyphs" style="white-space:pre">Okt</text>
<text x="872.8" y="601.8" fill="#000" stroke="#000" textLength="24.42" lengthAdjust="spacingAndGlyphs" style="white-space:pre">2017</text>
<text x="929.18" y="601.8" fill="#000" stroke="#000" textLength="15.88" lengthAdjust="spacingAndGlyphs" style="white-space:pre">Apr</text>
<text x="984.73" y="601.8" fill="#000" stroke="#000" textLength="12.97" lengthAdjust="spacingAndGlyphs" style="white-space:pre">Jul</text>
<text x="1040.39" y="601.8" fill="#000" stroke="#000" textLength="16.38" lengthAdjust="spacingAndGlyphs" style="white-space:pre">Okt</text>
<text x="1100.8" y="601.8" fill="#000" stroke="#000" textLength="24.4" lengthAdjust="spacingAndGlyphs" style="white-space:pre">2018</text>
<text x="1153.18" y="601.8" fill="#000" stroke="#000" textLength="15.88" lengthAdjust="spacingAndGlyphs" style="white-space:pre">Apr</text>
<text x="1207.73" y="601.8" fill="#000" stroke="#000" textLength="12.97" lengthAdjust="spacingAndGlyphs" style="white-space:pre">Jul</text>
<text x="16.39" y="91.3" fill="#d2642d" stroke="#d2642d" textLength="44.54" lengthAdjust="spacingAndGlyphs" style="white-space:pre">12950,12</text>
<text x="16.36" y="130.3" fill="#d2642d" stroke="#d2642d" textLength="44.51" lengthAdjust="spacingAndGlyphs" style="white-space:pre">12390,71</text>
<text x="16.41" y="195.3" fill="#2e8b2e" stroke="#2e8b2e" textLength="44.62" lengthAdjust="spacingAndGlyphs" style="white-space:pre">11446,93</text>
<text x="16.38" y="261.3" fill="#2e8b2e" stroke="#2e8b2e" textLength="44.51" lengthAdjust="spacingAndGlyphs" style="white-space:pre">10491,53</text>
<text x="15.7" y="341.3" fill="#2e8b2e" stroke="#2e8b2e" textLength="39.59" lengthAdjust="spacingAndGlyphs" style="white-space:pre">9327,69</text>
<text x="15.72" y="402.3" fill="#2e8b2e" stroke="#2e8b2e" textLength="39.52" lengthAdjust="spacingAndGlyphs" style="white-space:pre">8451,75</text>
<text x="1133.65" y="20.8" fill="#d84040" stroke="#d84040" textLength="44.06" lengthAdjust="spacingAndGlyphs" style="white-space:pre">14176,24</text>
</g>
</svg>
</body></html>
